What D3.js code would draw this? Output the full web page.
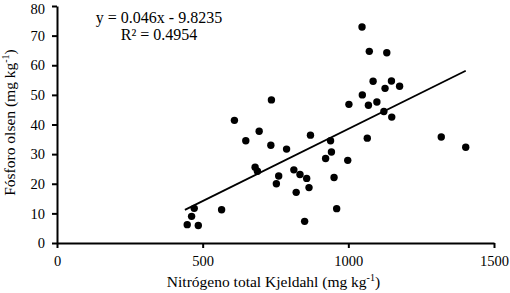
<!DOCTYPE html>
<html>
<head>
<meta charset="utf-8">
<script src="https://cdn.jsdelivr.net/npm/d3@7"></script>
<style>
    body { margin: 0; background: #fff; }
    svg { display: block; font-family: "Liberation Serif", "Times New Roman", serif; }
    .axis path, .axis line { stroke: #000; stroke-width: 2; }
    .axis text { font-size: 14.5px; fill: #000; font-family: "Liberation Serif", serif; }
    .axis-title { font-size: 15.5px; fill: #000; }
    .eq-label { font-size: 16px; fill: #000; }
</style>
</head>
<body>
<svg id="chart"></svg>
<script>
// nitrogen total Kjeldahl (mg/kg) vs phosphorus olsen (mg/kg)
const nitrogen = [447, 485, 462, 471, 565, 609, 648, 680, 688, 694, 734, 736, 761, 753, 788,
    813, 834, 857, 865, 821, 850, 870, 939, 942, 922, 951, 960, 998, 1002, 1047, 1048, 1065,
    1069, 1072, 1085, 1098, 1122, 1126, 1132, 1148, 1149, 1176, 1319, 1403];
const phosphorus = [6.2, 5.9, 9.0, 11.7, 11.2, 41.4, 34.5, 25.6, 24.2, 37.7, 33.0, 48.3, 22.6, 20.0, 31.7,
    24.7, 23.1, 21.8, 18.7, 17.1, 7.3, 36.4, 34.5, 30.7, 28.5, 22.1, 11.6, 27.9, 46.8, 72.9, 50.0, 35.4,
    46.5, 64.7, 54.6, 47.6, 44.4, 52.2, 64.2, 54.7, 42.5, 52.9, 35.8, 32.3];

const xTicks = [0, 500, 1000, 1500];
const yTicks = [0, 10, 20, 30, 40, 50, 60, 70, 80];
const eqLines = ["y = 0.046x - 9.8235", "R² = 0.4954"];
// trend line as drawn in the figure (slope, intercept)
const trendCoef = [0.0487, -10.2];

class scatterPlot {
    constructor(_config, _x, _y) {
        this.config = {
            parentElement: _config.parentElement,
            containerWidth: _config.containerWidth,
            containerHeight: _config.containerHeight,
            margin: { top: 6, bottom: 50, right: 16, left: 57 }
        };
        this.data = _x.map((d, i) => ({ n: d, p: _y[i] }));
        this.initVis();
    }

    initVis() {
        let vis = this;

        vis.width = vis.config.containerWidth - vis.config.margin.left - vis.config.margin.right;
        vis.height = vis.config.containerHeight - vis.config.margin.top - vis.config.margin.bottom;

        vis.svg = d3.select(vis.config.parentElement)
            .attr('width', vis.config.containerWidth)
            .attr('height', vis.config.containerHeight);

        vis.chart = vis.svg.append('g')
            .attr('transform', `translate(${vis.config.margin.left},${vis.config.margin.top})`);

        vis.xScale = d3.scaleLinear()
            .domain([0, 1500])
            .range([0, vis.width]);

        vis.yScale = d3.scaleLinear()
            .domain([0, 80])
            .range([vis.height, 0]);

        vis.xAxis = d3.axisBottom(vis.xScale)
            .tickValues(xTicks)
            .tickFormat(d3.format('d'))
            .tickSize(5)
            .tickSizeOuter(0)
            .tickPadding(8);

        vis.yAxis = d3.axisLeft(vis.yScale)
            .tickValues(yTicks)
            .tickFormat(d3.format('d'))
            .tickSize(5)
            .tickSizeOuter(0)
            .tickPadding(7);

        vis.chart.append('g')
            .attr('class', 'axis x-axis')
            .attr('transform', `translate(0,${vis.height})`)
            .call(vis.xAxis);

        vis.chart.append('g')
            .attr('class', 'axis y-axis')
            .call(vis.yAxis)
            // top label sits right at the edge, nudge it down a bit
            .selectAll('.tick text')
            .filter(d => d === yTicks[yTicks.length - 1])
            .attr('dy', '0.5em');

        // x title with superscript
        let xt = vis.chart.append('text')
            .attr('class', 'axis-title')
            .attr('x', vis.width / 2 - 2)
            .attr('y', vis.height + 44)
            .style('text-anchor', 'middle');
        xt.append('tspan').text('Nitrógeno total Kjeldahl (mg kg');
        xt.append('tspan').attr('dy', -6).style('font-size', '10px').text('-1');
        xt.append('tspan').attr('dy', 6).text(')');

        let yt = vis.chart.append('text')
            .attr('class', 'axis-title')
            .attr('transform', 'rotate(-90)')
            .attr('x', -116.5)
            .attr('y', 15 - vis.config.margin.left)
            .style('text-anchor', 'middle');
        yt.append('tspan').text('Fósforo olsen (mg kg');
        yt.append('tspan').attr('dy', -6).style('font-size', '10px').text('-1');
        yt.append('tspan').attr('dy', 6).text(')');

        vis.updateVis();
    }

    updateVis() {
        let vis = this;

        const ext = d3.extent(vis.data, d => d.n);
        const trend = x => trendCoef[0] * x + trendCoef[1];

        vis.chart.selectAll('.dot')
            .data(vis.data)
            .join('circle')
            .attr('class', 'dot')
            .attr('cx', d => vis.xScale(d.n))
            .attr('cy', d => vis.yScale(d.p))
            .attr('r', 3.7)
            .style('fill', '#000');

        vis.chart.append('line')
            .attr('x1', vis.xScale(ext[0] - 8))
            .attr('y1', vis.yScale(trend(ext[0] - 8)))
            .attr('x2', vis.xScale(ext[1]))
            .attr('y2', vis.yScale(trend(ext[1])))
            .style('stroke', '#000')
            .style('stroke-width', 1.8);

        vis.chart.selectAll('.eq-label')
            .data(eqLines)
            .join('text')
            .attr('class', 'eq-label')
            .attr('x', 102)
            .attr('y', (d, i) => 17 + i * 17)
            .style('text-anchor', 'middle')
            .text(d => d);
    }
}

const plot = new scatterPlot({ parentElement: '#chart', containerWidth: 510, containerHeight: 293 },
    nitrogen, phosphorus);
</script>
</body>
</html>
